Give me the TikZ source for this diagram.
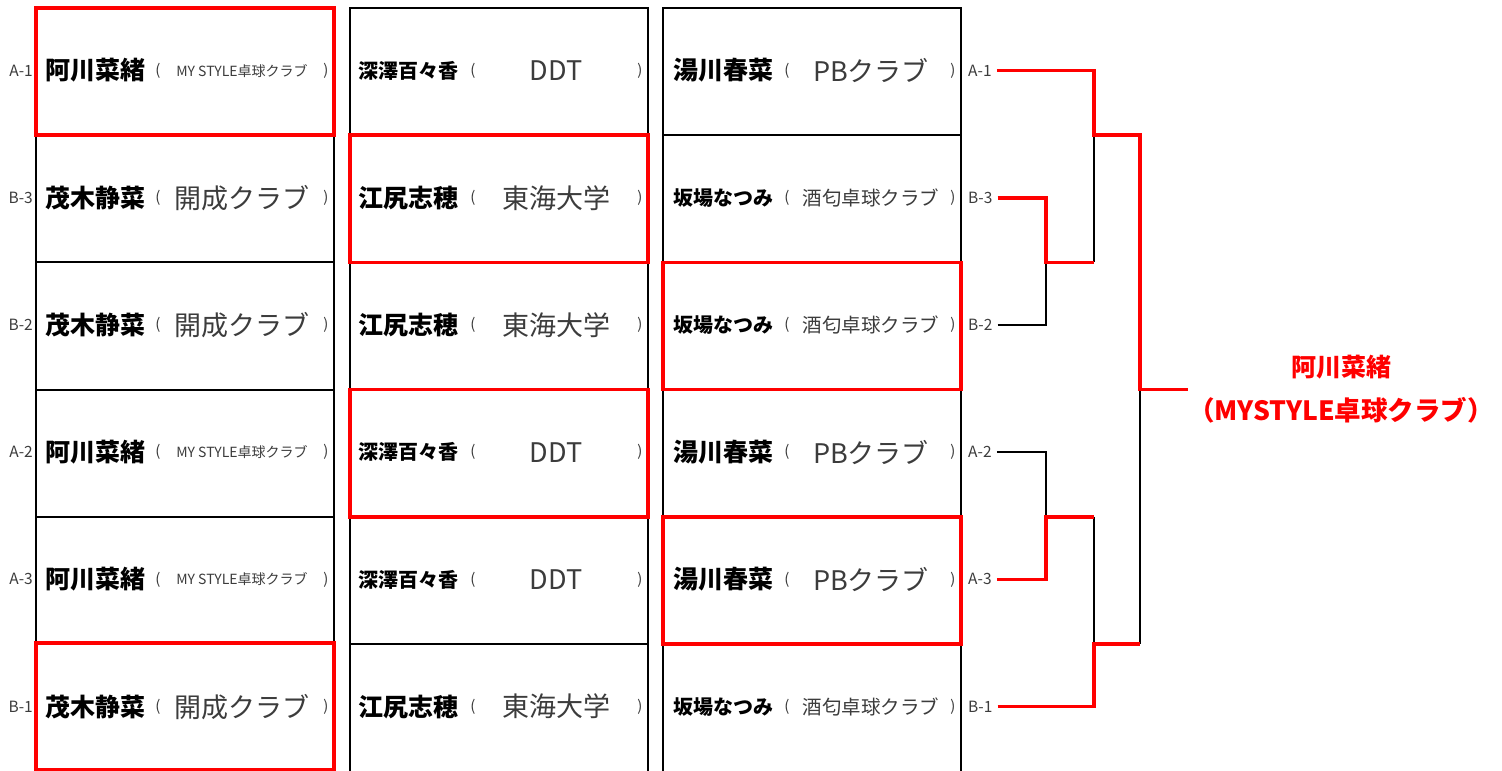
\documentclass[tikz,border=0pt]{standalone}
\usepackage{fontspec}
\setmainfont{Noto Sans CJK JP}
\definecolor{winred}{RGB}{255,0,0}
\definecolor{clubgray}{RGB}{60,60,60}
\definecolor{labgray}{RGB}{60,60,60}
\tikzset{
 cell/.style={draw=black, line width=2pt, minimum width=298pt, minimum height=127.2pt, inner sep=0pt, outer sep=0pt},
 wincell/.style={draw=winred, line width=3.5pt, minimum width=298pt, minimum height=127.2pt, inner sep=0pt, outer sep=0pt},
 pname/.style={anchor=west, inner sep=0pt, font=\bfseries\fontsize{#1}{#1}\selectfont},
 club/.style={inner sep=0pt, text=clubgray, font=\fontsize{#1}{#1}\selectfont},
 paren/.style={inner sep=0pt, text=clubgray, font=\fontsize{15}{15}\selectfont},
 seedlab/.style={inner sep=0pt, text=labgray, font=\fontsize{15.5}{15.5}\selectfont},
 bk/.style={draw=black, line width=2pt},
 rd/.style={draw=winred, line width=3.5pt},
 wintext/.style={inner sep=0pt, text=winred, font=\bfseries\fontsize{#1}{#1}\selectfont},
}
\begin{document}
\begin{tikzpicture}[x=1pt,y=-1pt]
\useasboundingbox (0,0) rectangle (1502,771);
\fill[white] (0,0) rectangle (1502,771);
% cells (bottom row runs off the page)
\foreach \c/\cx in {1/185,2/499,3/812}{
  \foreach \r in {1,...,5}{
    \pgfmathsetmacro\yy{8+127.2*(\r-0.5)}
    \node[cell] (b\c\r) at (\cx,\yy) {};
  }
  \node[cell, minimum height=140pt] (b\c6) at (\cx,{8+127.2*5+70}) {};
}
% winner cells
\foreach \c/\r in {1/1,2/2,2/4,3/3,3/5}{
  \node[wincell] (w\c\r) at (b\c\r.center) {};
}
\node[wincell] (w16) at (185,{8+127.2*5.5-1}) {};
% column 1
\foreach \r/\nm/\nsz/\cl/\csz/\sd in {1/阿川菜緒/25/MY STYLE卓球クラブ/14/A-1, 2/茂木静菜/25/開成クラブ/27/B-3, 3/茂木静菜/25/開成クラブ/27/B-2, 4/阿川菜緒/25/MY STYLE卓球クラブ/14/A-2, 5/阿川菜緒/25/MY STYLE卓球クラブ/14/A-3, 6/茂木静菜/25/開成クラブ/27/B-1}{
  \pgfmathsetmacro\yy{8+127.2*(\r-0.5)-1}
  \node[pname=\nsz] (n1\r) at (45,\yy) {\nm};
  \node[club=\csz] (k1\r) at (242,\yy) {\cl};
  \node[paren] (o1\r) at (158,\yy) {(};
  \node[paren] (e1\r) at (326,\yy) {)};
  \node[seedlab, anchor=east] (l\r) at (33,\yy) {\sd};
}
% column 2
\foreach \r/\nm/\nsz/\cl/\csz in {1/深澤百々香/20/DDT/27, 2/江尻志穂/25/東海大学/27, 3/江尻志穂/25/東海大学/27, 4/深澤百々香/20/DDT/27, 5/深澤百々香/20/DDT/27, 6/江尻志穂/25/東海大学/27}{
  \pgfmathsetmacro\yy{8+127.2*(\r-0.5)-1}
  \node[pname=\nsz] (n2\r) at (358,\yy) {\nm};
  \node[club=\csz] (k2\r) at (556,\yy) {\cl};
  \node[paren] (o2\r) at (473,\yy) {(};
  \node[paren] (e2\r) at (640,\yy) {)};
}
% column 3
\foreach \r/\nm/\nsz/\cl/\csz/\sd in {1/湯川春菜/25/PBクラブ/27/A-1, 2/坂場なつみ/20/酒匂卓球クラブ/19.5/B-3, 3/坂場なつみ/20/酒匂卓球クラブ/19.5/B-2, 4/湯川春菜/25/PBクラブ/27/A-2, 5/湯川春菜/25/PBクラブ/27/A-3, 6/坂場なつみ/20/酒匂卓球クラブ/19.5/B-1}{
  \pgfmathsetmacro\yy{8+127.2*(\r-0.5)-1}
  \node[pname=\nsz] (n3\r) at (673,\yy) {\nm};
  \node[club=\csz] (k3\r) at (871,\yy) {\cl};
  \node[paren] (o3\r) at (787,\yy) {(};
  \node[paren] (e3\r) at (953,\yy) {)};
  \node[seedlab, anchor=west] (s\r) at (968,\yy) {\sd};
}
% bracket junctions
\coordinate (q1) at (1094,135.2);
\coordinate (q2) at (1046,262.4);
\coordinate (q3) at (1046,516.8);
\coordinate (q4) at (1094,644);
\coordinate (f) at (1140,389.6);
\coordinate (w) at (1188,389.6);
% black lines
\draw[bk] ([xshift=5pt]s3.east) -| (q2);
\draw[bk] (q2 -| q1) -- (q1);
\draw[bk] ([xshift=5pt]s4.east) -| (q3);
\draw[bk] (q3 -| q4) -- (q4);
\draw[bk] (f) -- (f |- q4);
% red lines
\draw[rd] ([xshift=5pt]s1.east) -| (q1) -| (f) -- (w);
\draw[rd] ([xshift=5pt]s2.east) -| (q2) -- (q2 -| q1);
\draw[rd] ([xshift=5pt]s5.east) -| (q3) -- (q3 -| q4);
\draw[rd] ([xshift=5pt]s6.east) -| (q4) -- (f |- q4);
% winner
\node[wintext=25] (wn) at (1341,367) {阿川菜緒};
\node[wintext=26.5] (wc) at (1341,410) {（MYSTYLE卓球クラブ）};
\end{tikzpicture}
\end{document}
